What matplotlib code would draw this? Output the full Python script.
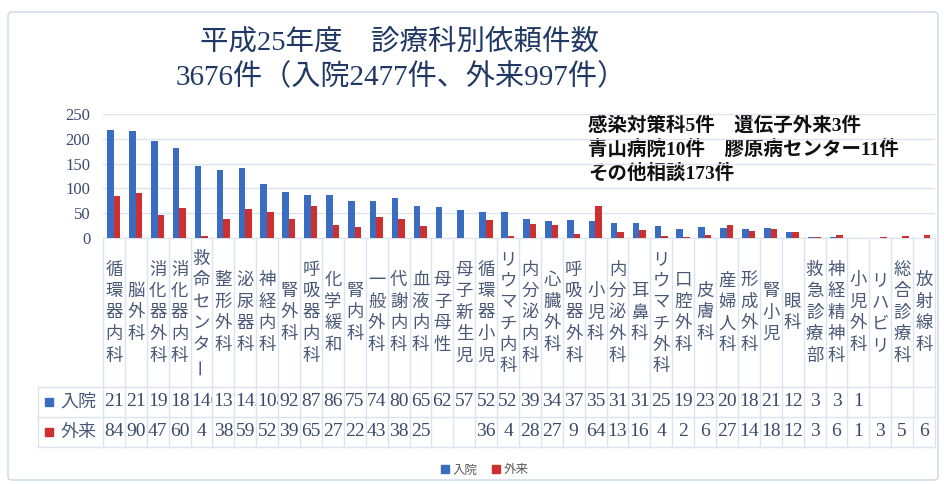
import numpy as np
import matplotlib.pyplot as plt
from matplotlib import transforms
from matplotlib.patches import Rectangle, Patch, FancyBboxPatch

jp = ['Noto Sans CJK JP', 'DejaVu Sans']
serif = ['Liberation Serif', 'Noto Sans CJK JP']

departments = ['循環器内科', '脳外科', '消化器外科', '消化器内科', '救命センター', '整形外科',
               '泌尿器科', '神経内科', '腎外科', '呼吸器内科', '化学緩和', '腎内科',
               '一般外科', '代謝内科', '血液内科', '母子母性', '母子新生児', '循環器小児',
               'リウマチ内科', '内分泌内科', '心臓外科', '呼吸器外科', '小児科', '内分泌外科',
               '耳鼻科', 'リウマチ外科', '口腔外科', '皮膚科', '産婦人科', '形成外科',
               '腎小児', '眼科', '救急診療部', '神経精神科', '小児外科', 'リハビリ',
               '総合診療科', '放射線科']
inpatient = [218, 216, 195, 181, 146, 137, 142, 108, 92, 87, 86, 75, 74, 80, 65, 62, 57, 52,
             52, 39, 34, 37, 35, 31, 31, 25, 19, 23, 20, 18, 21, 12, 3, 3, 1,
             np.nan, np.nan, np.nan]
outpatient = [84, 90, 47, 60, 4, 38, 59, 52, 39, 65, 27, 22, 43, 38, 25, np.nan, np.nan, 36,
              4, 28, 27, 9, 64, 13, 16, 4, 2, 6, 27, 14, 18, 12, 3, 6, 1, 3, 5, 6]
series_names = ['入院', '外来']
title1 = '平成25年度　診療科別依頼件数'
title2 = '3676件（入院2477件、外来997件）'
notes = ['感染対策科5件　遺伝子外来3件', '青山病院10件　膠原病センター11件', 'その他相談173件']

blue = '#3a6cc2'
red = '#cc3030'
grid_c = '#dbe3ef'
text_c = '#3b4a6b'

W, H = 945, 484
fig = plt.figure(figsize=(W / 100, H / 100), dpi=100)

# overlay in pixel coords (y down)
ov = fig.add_axes([0, 0, 1, 1])
ov.set_xlim(0, W)
ov.set_ylim(H, 0)
ov.axis('off')
ov.add_patch(FancyBboxPatch((8, 12), 930, 468, boxstyle='round,pad=0,rounding_size=4',
                            fill=False, ec='#c9d6e6', lw=1))

L, R, Y0, Y250 = 103, 935, 238, 114
ax = fig.add_axes([L / W, (H - Y0) / H, (R - L) / W, (Y0 - Y250) / H])
x = np.arange(len(departments))
ax.bar(x - 0.16, np.nan_to_num(inpatient), 0.3, color=blue, zorder=3)
ax.bar(x + 0.14, np.nan_to_num(outpatient), 0.3, color=red, zorder=3)
ax.set_xlim(-0.5, len(departments) - 0.5)
ax.set_ylim(0, 250)
ax.set_yticks(np.arange(0, 251, 50))
ax.set_xticks([])
ax.grid(axis='y', color=grid_c, lw=1, zorder=0)
for s in ['top', 'right', 'left']:
    ax.spines[s].set_visible(False)
ax.spines['bottom'].set_color(grid_c)
ax.tick_params(axis='y', length=0, pad=9, labelcolor=text_c, labelsize=12)
for lab in ax.get_yticklabels():
    lab.set_family(serif)
ax.patch.set_alpha(0)

trans = transforms.blended_transform_factory(ax.transData, ov.transData)

# table grid
TB1, TB2, TB3 = 387, 417, 447
for b in np.arange(-0.5, len(departments), 1.0):
    ov.plot([b, b], [Y0, TB3], transform=trans, color=grid_c, lw=1)
for yy in [TB1, TB2, TB3]:
    ov.plot([38, R], [yy, yy], color=grid_c, lw=1)
ov.plot([38, 38], [TB1, TB3], color=grid_c, lw=1)

# vertical category labels
mid = (Y0 + TB1) / 2
pitch = 21.5
for i, name in enumerate(departments):
    n = len(name)
    for k, ch in enumerate(name):
        yy = mid + (k - (n - 1) / 2) * pitch
        ov.text(i, yy, ch, transform=trans, ha='center', va='center', fontsize=12.5,
                family=jp, color='#4a5878', rotation=90 if ch == 'ー' else 0)

# table values
for vals, yc, col, nm in [(inpatient, (TB1 + TB2) / 2, blue, series_names[0]),
                          (outpatient, (TB2 + TB3) / 2, red, series_names[1])]:
    ov.add_patch(Rectangle((45, yc - 4), 8, 8, color=col))
    ov.text(60, yc, nm, ha='left', va='center', fontsize=13, family=jp, color='#4a5878')
    for i, v in enumerate(vals):
        if np.isnan(v):
            continue
        s = str(int(v))
        if len(s) > 2:
            # too wide for the cell: show what fits, like the spreadsheet does
            t = ov.text(i - 0.45, yc, s, transform=trans, ha='left', va='center',
                        fontsize=14, family=serif, color=text_c, clip_on=True)
            clip = Rectangle((i - 0.5, yc - 14), 0.97, 28, transform=trans)
            t.set_clip_path(clip)
        else:
            ov.text(i, yc, s, transform=trans, ha='center', va='center',
                    fontsize=14, family=serif, color=text_c)

# titles
ov.text(400, 42, title1, ha='center', va='center', fontsize=20.5, family=serif, color='#1f3864')
ov.text(401, 77, title2, ha='center', va='center', fontsize=21, family=serif, color='#1f3864')

# notes
for j, line in enumerate(notes):
    ov.text(588, 125 + 24 * j, line, ha='left', va='center', fontsize=14,
            family=serif, color='#111111', fontweight='bold')

handles = [Patch(color=blue, label=series_names[0]), Patch(color=red, label=series_names[1])]
fig.legend(handles=handles, loc='center', bbox_to_anchor=(485 / W, 1 - 470 / H), ncol=2,
           frameon=False, prop={'family': jp, 'size': 9}, handlelength=0.6, handleheight=0.6,
           handletextpad=0.3, columnspacing=1.2, labelcolor='#595959')

fig.savefig('out.png', dpi=100)
